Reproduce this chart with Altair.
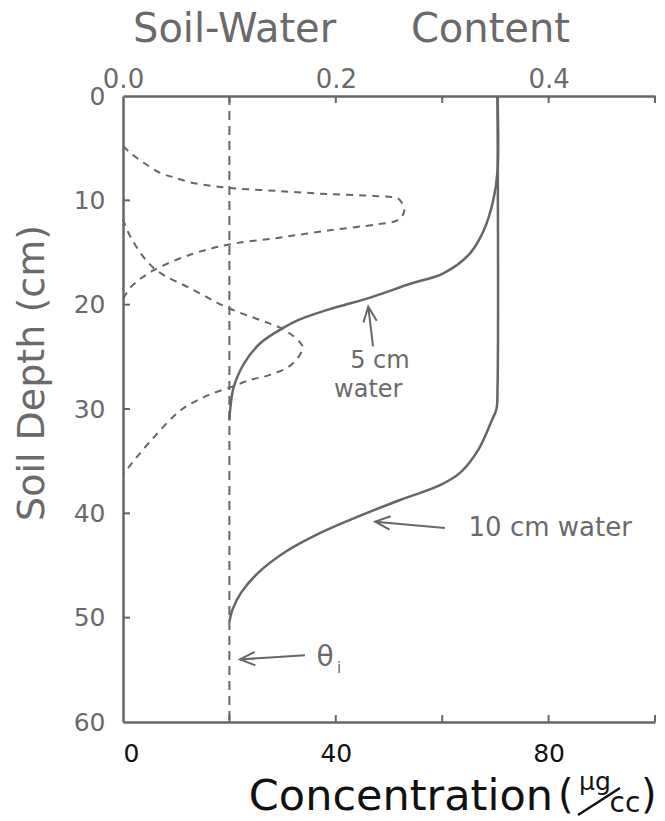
import altair as alt
import pandas as pd

# ---------------- data ----------------
DEPTH_TICKS = [0, 10, 20, 30, 40, 50, 60]
CONC_TICKS = [0, 20, 40, 60, 80, 100]
CONC_LABELS = [0, 40, 80]
THETA_TICKS = [0.0, 0.1, 0.2, 0.3, 0.4, 0.5]
THETA_LABELS = [0.0, 0.2, 0.4]
THETA_I = 0.1

# concentration profile, shallow peak (depth cm, concentration ug/cc)
upper_depth = [4.8, 5.5, 6.4, 7.4, 7.8, 8.3, 8.6, 8.8, 9.1, 9.4, 9.6, 9.8, 10.3, 10.8,
               11.5, 12.0, 12.3, 12.9, 13.6, 14.2, 15.1, 16.7, 18.3, 19.5]
upper_conc = [0.0, 1.5, 3.9, 7.1, 9.6, 12.8, 16.5, 19.7, 29.0, 38.5, 47.8, 51.6, 52.5, 52.9,
              52.5, 51.2, 47.8, 38.5, 29.0, 20.3, 13.3, 5.8, 1.5, 0.0]

# concentration profile, deeper peak
lower_depth = [11.8, 13.6, 16.5, 18.6, 20.3, 21.5, 22.2, 23.0, 23.7, 24.1, 25.0, 26.0,
               26.8, 27.2, 27.9, 28.7, 30.1, 33.0, 35.3, 36.3]
lower_conc = [0.0, 1.5, 5.8, 13.3, 19.7, 25.9, 29.5, 32.0, 33.4, 33.8, 33.0, 31.0,
              27.2, 24.0, 20.3, 15.9, 10.9, 5.3, 1.5, 0.0]

# soil-water content after 5 cm water
w5_depth = [0.0, 7.2, 10.0, 12.9, 15.1, 17.0, 18.0, 19.3, 20.5, 21.5, 22.2, 23.7,
            25.6, 27.9, 29.8, 31.1]
w5_theta = [0.352, 0.352, 0.348, 0.339, 0.326, 0.301, 0.270, 0.233, 0.192, 0.164, 0.151,
            0.129, 0.114, 0.104, 0.101, 0.100]

# soil-water content after 10 cm water
w10_depth = [0.0, 28.0, 30.0, 31.0, 33.9, 36.1, 37.3, 38.7, 40.6, 42.0, 43.8, 45.7, 47.6,
             49.2, 50.4]
w10_theta = [0.352, 0.352, 0.351, 0.347, 0.334, 0.317, 0.298, 0.261, 0.214, 0.183, 0.151,
             0.127, 0.111, 0.103, 0.100]

# annotations (concentration units / depth)
label5_text = ["5 cm", "water"]
label5_c = [48.3, 46.1]
label5_d = [25.4, 28.2]
label10_text = ["10 cm  water"]
label10_c = [80.3]
label10_d = [41.4]
theta_text = ["\u03b8"]
theta_c = [38.0]
theta_d = [53.9]
sub_text = ["i"]
sub_c = [40.6]
sub_d = [54.8]
arrow_tail_c = [47.0, 60.5, 34.2]
arrow_tail_d = [24.0, 41.4, 53.6]
arrow_tip_c = [46.1, 47.4, 22.0]
arrow_tip_d = [20.2, 40.8, 54.0]
arrow_angle = [263, 185, 177]

# ---------------- tables ----------------
def profile(depth, vals, name, col):
    return pd.DataFrame({"depth": depth, col: vals, "series": name,
                         "i": list(range(len(depth)))})

def labels(text, c, d):
    return pd.DataFrame({"text": text, "c": c, "d": d})

conc_df = pd.concat([profile(upper_depth, upper_conc, "upper", "conc"),
                     profile(lower_depth, lower_conc, "lower", "conc")])
theta_df = pd.concat([profile(w5_depth, w5_theta, "5 cm water", "theta"),
                      profile(w10_depth, w10_theta, "10 cm water", "theta")])
arrows_df = pd.DataFrame({"c": arrow_tail_c, "d": arrow_tail_d,
                          "c2": arrow_tip_c, "d2": arrow_tip_d, "a": arrow_angle})

W, H = 532, 626
GREY = "#666666"
TXT = "#6a6a6a"
BLACK = "#111111"
FONT = "DejaVu Sans"
one = pd.DataFrame({"k": [0]})

xc = alt.Scale(domain=[0, 100], nice=False, zero=False)
xt = alt.Scale(domain=[0, 0.5], nice=False, zero=False)
ys = alt.Scale(domain=[0, 60], nice=False, reverse=True)

# ---------------- layers ----------------
conc_lines = alt.Chart(conc_df).mark_line(
    strokeDash=[7, 6], strokeWidth=2, color=GREY, interpolate="catmull-rom"
).encode(
    x=alt.X("conc:Q", scale=xc, axis=alt.Axis(
        orient="bottom", values=CONC_LABELS, format="d", ticks=False, grid=False,
        title=None, labelFontSize=25, labelColor=BLACK, labelPadding=19,
        labelFont=FONT, domain=True, domainColor=GREY, domainWidth=2.5)),
    y=alt.Y("depth:Q", scale=ys, axis=alt.Axis(
        orient="left", values=DEPTH_TICKS, ticks=False, grid=False, title=None,
        labelFontSize=25, labelColor=TXT, labelPadding=18, labelFont=FONT,
        domain=True, domainColor=GREY, domainWidth=2.5)),
    detail="series:N",
    order="i:Q",
)

theta_lines = alt.Chart(theta_df).mark_line(
    strokeWidth=2.5, color=GREY, interpolate="catmull-rom"
).encode(
    x=alt.X("theta:Q", scale=xt, axis=alt.Axis(
        orient="top", values=THETA_LABELS, format=".1f", ticks=False, grid=False,
        title=None, labelFontSize=26, labelColor=TXT, labelPadding=4, labelFont=FONT,
        labelFlush=False, domain=True, domainColor=GREY, domainWidth=2.5)),
    y=alt.Y("depth:Q", scale=ys, axis=None),
    detail="series:N",
    order="i:Q",
)

theta_i_line = alt.Chart(pd.DataFrame({"t": [THETA_I]})).mark_rule(
    strokeDash=[9, 6], strokeWidth=2, color=GREY
).encode(x=alt.X("t:Q", scale=xt, axis=None))

theta_ticks = alt.Chart(pd.DataFrame({"t": THETA_TICKS[1:]})).mark_rule(
    color=GREY, strokeWidth=2
).encode(x=alt.X("t:Q", scale=xt, axis=None), y=alt.value(0), y2=alt.value(7))

conc_ticks = alt.Chart(pd.DataFrame({"c": CONC_TICKS[1:]})).mark_rule(
    color=GREY, strokeWidth=2
).encode(x=alt.X("c:Q", scale=xc, axis=None), y=alt.value(H), y2=alt.value(H - 7))

depth_ticks = alt.Chart(pd.DataFrame({"d": DEPTH_TICKS[1:-1]})).mark_rule(
    color=GREY, strokeWidth=2
).encode(y=alt.Y("d:Q", scale=ys, axis=None), x=alt.value(0), x2=alt.value(7))


def note_layer(df, size):
    return alt.Chart(df).mark_text(
        fontSize=size, font=FONT, color=TXT, align="center", baseline="middle"
    ).encode(x=alt.X("c:Q", scale=xc, axis=None),
             y=alt.Y("d:Q", scale=ys, axis=None), text="text:N")


notes5 = note_layer(labels(label5_text, label5_c, label5_d), 24)
notes10 = note_layer(labels(label10_text, label10_c, label10_d), 26)
notes_theta = note_layer(labels(theta_text, theta_c, theta_d), 28)
notes_sub = note_layer(labels(sub_text, sub_c, sub_d), 15)

shafts = alt.Chart(arrows_df).mark_rule(color=GREY, strokeWidth=2).encode(
    x=alt.X("c:Q", scale=xc, axis=None), y=alt.Y("d:Q", scale=ys, axis=None),
    x2="c2:Q", y2="d2:Q")

heads = alt.Chart(arrows_df).mark_point(
    shape="M -1 -0.45 L 0 0 L -1 0.45", filled=False, size=900,
    color=GREY, strokeWidth=2, opacity=1
).encode(x=alt.X("c2:Q", scale=xc, axis=None), y=alt.Y("d2:Q", scale=ys, axis=None),
         angle=alt.Angle("a:Q", scale=None))

# titles
t_soilwater = alt.Chart(one).mark_text(
    text="Soil-Water", fontSize=40, font=FONT, color=TXT, align="left",
    baseline="alphabetic").encode(x=alt.value(10), y=alt.value(-54))
t_content = alt.Chart(one).mark_text(
    text="Content", fontSize=40, font=FONT, color=TXT, align="right",
    baseline="alphabetic").encode(x=alt.value(447), y=alt.value(-54))
t_depth = alt.Chart(one).mark_text(
    text="Soil  Depth (cm)", fontSize=38, font=FONT, color=TXT, align="center",
    baseline="middle", angle=270).encode(x=alt.value(-90), y=alt.value(277))
t_conc = alt.Chart(one).mark_text(
    text="Concentration", fontSize=43, font=FONT, color=BLACK, align="right",
    baseline="alphabetic").encode(x=alt.value(430), y=alt.value(714))
t_lpar = alt.Chart(one).mark_text(
    text="(", fontSize=40, font=FONT, color=BLACK, align="left",
    baseline="alphabetic").encode(x=alt.value(435), y=alt.value(712))
t_ug = alt.Chart(one).mark_text(
    text="\u00b5g", fontSize=25, font=FONT, color=BLACK, align="center",
    baseline="alphabetic").encode(x=alt.value(472), y=alt.value(694))
t_slash = alt.Chart(one).mark_rule(color=BLACK, strokeWidth=2.5).encode(
    x=alt.value(455), y=alt.value(719), x2=alt.value(497), y2=alt.value(692))
t_cc = alt.Chart(one).mark_text(
    text="cc", fontSize=28, font=FONT, color=BLACK, align="center",
    baseline="alphabetic").encode(x=alt.value(502), y=alt.value(716))
t_rpar = alt.Chart(one).mark_text(
    text=")", fontSize=40, font=FONT, color=BLACK, align="left",
    baseline="alphabetic").encode(x=alt.value(518), y=alt.value(712))

chart = alt.layer(
    conc_lines, theta_lines, theta_i_line, theta_ticks, conc_ticks, depth_ticks,
    notes5, notes10, notes_theta, notes_sub, shafts, heads,
    t_soilwater, t_content, t_depth, t_conc, t_lpar, t_ug, t_slash, t_cc, t_rpar,
).resolve_scale(x="independent", y="independent").properties(
    width=W, height=H,
    padding={"left": 123, "top": 96, "right": 10, "bottom": 99},
    autosize=alt.AutoSizeParams(type="none"),
    background="white",
).configure_view(stroke=None)

chart.save("out.html", embed_options={"renderer": "svg", "actions": False})
